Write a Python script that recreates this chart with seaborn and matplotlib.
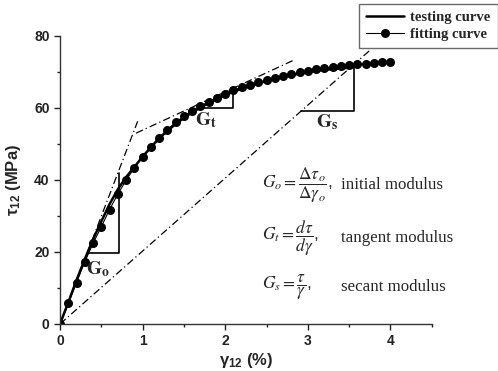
import numpy as np
import pandas as pd
import seaborn as sns
import matplotlib.pyplot as plt

# fitting curve (dots)
fit_gamma = [0.0, 0.1, 0.2, 0.3, 0.4, 0.5, 0.6, 0.7, 0.8, 0.9, 1.0, 1.1, 1.2, 1.3, 1.4,
             1.5, 1.6, 1.7, 1.8, 1.9, 2.0, 2.1, 2.2, 2.3, 2.4, 2.5, 2.6, 2.7, 2.8, 2.9,
             3.0, 3.1, 3.2, 3.3, 3.4, 3.5, 3.6, 3.7, 3.8, 3.9, 4.0]
fit_tau = [0.0, 5.7, 11.5, 17.3, 22.4, 27.0, 31.8, 36.1, 39.9, 43.4, 46.4, 49.2, 51.7, 54.0, 56.0,
           57.7, 59.2, 60.5, 61.8, 62.9, 64.0, 65.0, 65.8, 66.5, 67.1, 67.7, 68.3, 68.9, 69.4, 69.9,
           70.3, 70.7, 71.1, 71.4, 71.7, 71.9, 72.1, 72.3, 72.5, 72.7, 72.9]

# testing curve (solid)
test_gamma = [0.0, 0.1, 0.2, 0.3, 0.4, 0.5, 0.6, 0.7, 0.8, 0.9, 1.0, 1.2, 1.4, 1.6, 1.8,
              2.0, 2.2, 2.4, 2.6, 2.8, 3.0, 3.2, 3.4, 3.55]
test_tau = [0.0, 6.0, 12.2, 18.0, 23.5, 28.5, 33.3, 37.4, 40.8, 43.6, 46.5, 51.6, 55.6, 58.8, 61.4,
            63.6, 65.4, 66.9, 68.1, 69.1, 70.0, 70.6, 71.0, 71.3]

# construction lines (dash-dot)
init_x, init_y = [0.0, 0.94], [0.0, 56.3]
tang_x, tang_y = [0.92, 2.83], [53.0, 73.3]
sec_x, sec_y = [0.0, 3.75], [0.0, 76.0]

# modulus triangles
go_x, go_y = [0.345, 0.72, 0.72], [19.8, 19.8, 42.0]
gt_x, gt_y = [1.68, 2.09, 2.09], [60.1, 60.1, 65.5]
gs_x, gs_y = [2.92, 3.56, 3.56], [59.2, 59.2, 71.0]

sns.set_style("ticks")
plt.rcParams['font.family'] = ['Liberation Sans', 'DejaVu Sans']
plt.rcParams['mathtext.fontset'] = 'custom'
plt.rcParams['mathtext.rm'] = 'Liberation Sans:bold'
plt.rcParams['mathtext.bf'] = 'Liberation Sans:bold'
plt.rcParams['mathtext.it'] = 'Liberation Sans:bold'

fig = plt.figure(figsize=(4.98, 3.71), dpi=100)
ax = fig.add_axes([0.1205, 0.1267, 0.7465, 0.7763])

fit = pd.DataFrame({'gamma': fit_gamma, 'tau': fit_tau})
test = pd.DataFrame({'gamma': test_gamma, 'tau': test_tau})

dashdot = (0, (6, 2.5, 1, 2.5))
for xs, ys in [(init_x, init_y), (tang_x, tang_y), (sec_x, sec_y)]:
    ax.plot(xs, ys, color='black', lw=0.9, linestyle=dashdot)

sns.lineplot(data=test, x='gamma', y='tau', ax=ax, color='black', lw=1.8,
             sort=False, label='testing curve')
sns.lineplot(data=fit, x='gamma', y='tau', ax=ax, color='black', lw=0.8,
             marker='o', markersize=6.5, markeredgewidth=0, sort=False, label='fitting curve')

for xs, ys in [(go_x, go_y), (gt_x, gt_y), (gs_x, gs_y)]:
    ax.plot(xs, ys, color='black', lw=1.2)

lab = dict(fontsize=14, math_fontfamily='stix', ha='center', va='center')
ax.text(0.46, 15.3, r'$\mathbf{G_o}$', **lab)
ax.text(1.77, 56.5, r'$\mathbf{G_t}$', **lab)
ax.text(3.23, 56.0, r'$\mathbf{G_s}$', **lab)

serif = ['Liberation Serif', 'DejaVu Serif']
fml = dict(fontsize=12.5, math_fontfamily='stix', ha='left', va='center')
ax.text(2.45, 38.6, r'$G_o=\dfrac{\Delta\tau_o}{\Delta\gamma_o}$,', **fml)
ax.text(2.45, 23.8, r'$G_t=\dfrac{d\tau}{d\gamma}$,', **fml)
ax.text(2.45, 10.2, r'$G_s=\dfrac{\tau}{\gamma}$,', **fml)
ax.text(3.40, 38.6, 'initial modulus', fontsize=12.2, family=serif, va='center')
ax.text(3.40, 23.8, 'tangent modulus', fontsize=12.2, family=serif, va='center')
ax.text(3.40, 10.2, 'secant modulus', fontsize=12.2, family=serif, va='center')

ax.set_xlim(0, 4.5)
ax.set_ylim(0, 80)
ax.set_xticks([0, 1, 2, 3, 4])
ax.set_yticks([0, 20, 40, 60, 80])
ax.set_xticks(np.arange(0.5, 4.6, 1.0), minor=True)
ax.set_yticks([10, 30, 50, 70], minor=True)
ax.tick_params(which='major', direction='out', length=4, width=1, labelsize=10, colors='#222222')
ax.tick_params(which='minor', direction='out', length=2.5, width=1, colors='#222222')
for t in ax.get_xticklabels() + ax.get_yticklabels():
    t.set_fontweight('bold')
for s in ['left', 'bottom']:
    ax.spines[s].set_color('#333333')
    ax.spines[s].set_linewidth(1)
sns.despine(ax=ax)

ax.set_xlabel(r'γ$_{12}$ (%)', fontsize=12, fontweight='bold', labelpad=2)
ax.set_ylabel(r'τ$_{12}$ (MPa)', fontsize=12, fontweight='bold', labelpad=8)

leg = ax.legend(loc='upper right', bbox_to_anchor=(0.999, 0.99), bbox_transform=fig.transFigure,
                prop={'family': serif, 'weight': 'bold', 'size': 10.5}, frameon=True,
                fancybox=False, handlelength=2.6, borderpad=0.5, labelspacing=0.25,
                handletextpad=0.4, borderaxespad=0)
leg.get_frame().set_edgecolor('#444444')
leg.get_frame().set_linewidth(1)

fig.savefig('out.png', dpi=100)
